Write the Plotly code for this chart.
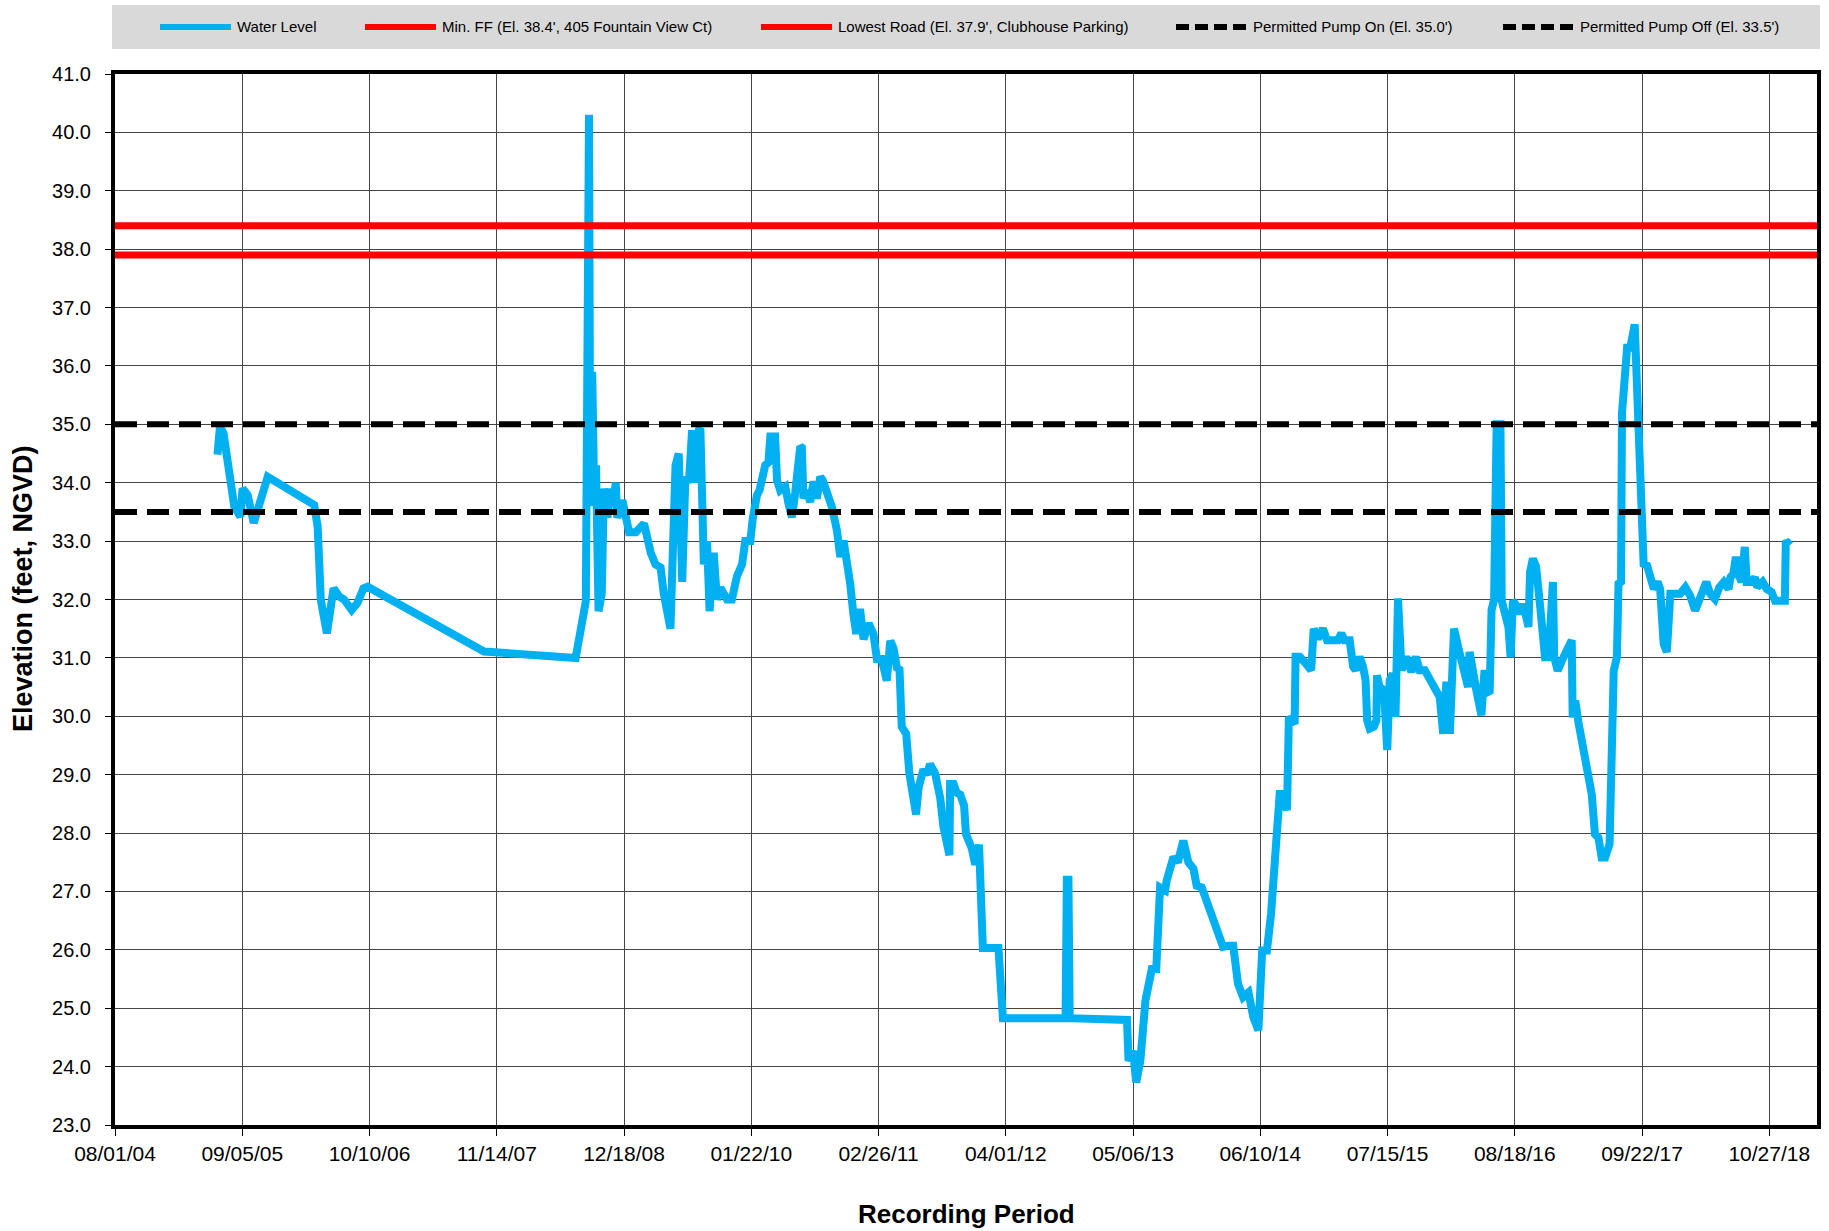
import pandas as pd
import plotly.graph_objects as go

# ---------------- data ----------------
START_DATE = "2004-08-01"
AXIS_END = "2019-03-26"

# days after START_DATE for each water level reading
level_days = [
    322, 330, 341, 375, 394, 401, 417, 436, 480, 626, 637, 647, 666, 687, 705, 720, 744, 762, 781, 794,
    1160, 1448, 1480, 1490, 1494, 1500, 1506, 1512, 1520, 1530, 1537, 1548, 1556, 1565, 1574, 1579,
    1595, 1605, 1616, 1637, 1648, 1663, 1684, 1699, 1715, 1725, 1746, 1757, 1762, 1772, 1783, 1793,
    1804, 1814, 1825, 1835, 1840, 1851, 1861, 1869, 1882, 1892, 1903, 1924, 1939, 1955, 1971, 1981,
    1997, 2005, 2007, 2018, 2026, 2044, 2054, 2060, 2075, 2081, 2091, 2107, 2117, 2128, 2138, 2154,
    2159, 2164, 2175, 2185, 2196, 2206, 2217, 2225, 2238, 2253, 2269, 2280, 2290, 2301, 2311, 2321,
    2330, 2342, 2353, 2369, 2384, 2395, 2410, 2426, 2437, 2447, 2458, 2466, 2473, 2487, 2497, 2518,
    2526, 2541, 2552, 2562, 2578, 2594, 2604, 2623, 2625, 2636, 2646, 2657, 2669, 2675, 2693, 2704,
    2716, 2728, 2777, 2791, 2988, 2992, 2997, 3001, 3181, 3186, 3200, 3210, 3223, 3239, 3249, 3259,
    3273, 3285, 3301, 3306, 3327, 3341, 3358, 3374, 3390, 3400, 3416, 3483, 3499, 3515, 3530, 3546,
    3563, 3578, 3594, 3606, 3621, 3634, 3652, 3661, 3671, 3684, 3690, 3708, 3711, 3724, 3739, 3760,
    3768, 3781, 3797, 3810, 3844, 3855, 3865, 3881, 3892, 3900, 3912, 3923, 3931, 3936, 3944, 3957,
    3965, 3967, 3975, 3989, 3999, 4007, 4017, 4025, 4033, 4044, 4059, 4075, 4089, 4101, 4117, 4148,
    4164, 4175, 4185, 4196, 4209, 4222, 4237, 4253, 4258, 4271, 4279, 4295, 4305, 4313, 4321, 4327,
    4335, 4343, 4355, 4359, 4370, 4380, 4387, 4394, 4401, 4412, 4419, 4429, 4443, 4448, 4457, 4467,
    4480, 4495, 4506, 4511, 4520, 4524, 4535, 4553, 4579, 4582, 4590, 4600, 4621, 4642, 4652, 4663,
    4673, 4684, 4698, 4705, 4711, 4721, 4726, 4734, 4737, 4753, 4763, 4777, 4782, 4793, 4805, 4816,
    4826, 4837, 4849, 4857, 4868, 4878, 4889, 4904, 4920, 4936, 4951, 4967, 4983, 5002, 5014, 5029,
    5043, 5057, 5072, 5078, 5087, 5095, 5102, 5113, 5123, 5129, 5145, 5155, 5162, 5179, 5192, 5207,
    5218, 5233, 5249, 5252, 5265,
]

water_level = [
    34.48, 34.96, 34.85, 33.59, 33.42, 33.90, 33.79, 33.31, 34.10, 33.62, 33.25, 31.99, 31.42, 32.19, 32.05, 32.00, 31.82, 31.94, 32.19, 32.22,
    31.11, 31.00, 31.97, 40.30, 33.60, 35.90, 33.90, 34.30, 31.80, 32.10, 33.90, 33.40, 33.90, 33.60, 34.00, 33.40,
    33.70, 33.35, 33.15, 33.15, 33.20, 33.30, 32.80, 32.60, 32.55, 32.10, 31.50, 34.30, 34.30, 34.50, 32.30, 34.10,
    34.00, 34.90, 34.00, 34.90, 34.93, 32.60, 33.00, 31.80, 32.80, 32.00, 32.20, 32.00, 32.00, 32.40, 32.60, 33.00,
    33.00, 33.40, 33.47, 33.79, 33.87, 34.30, 34.35, 34.79, 34.79, 34.04, 33.87, 33.93, 33.64, 33.41, 33.82, 34.62,
    34.60, 33.73, 33.87, 33.67, 34.02, 33.73, 34.10, 34.04, 33.87, 33.59, 33.19, 32.73, 33.01, 32.67, 32.27, 31.75,
    31.41, 31.84, 31.32, 31.59, 31.41, 30.98, 30.98, 30.61, 31.29, 31.17, 30.83, 30.80, 29.82, 29.70, 29.02, 28.32,
    28.78, 29.09, 29.00, 29.18, 29.02, 28.60, 28.11, 27.62, 28.84, 28.84, 28.69, 28.66, 28.47, 27.98, 27.74, 27.46,
    27.80, 26.03, 26.03, 24.83, 24.83, 27.20, 27.20, 24.83, 24.80, 24.10, 24.27, 23.73, 24.10, 25.13, 25.36, 25.67,
    25.67, 27.07, 27.02, 27.19, 27.59, 27.50, 27.87, 27.50, 27.39, 27.10, 27.07, 26.05, 26.07, 26.07, 25.42, 25.19,
    25.27, 24.85, 24.62, 25.99, 25.99, 26.62, 27.99, 28.67, 28.67, 28.39, 29.99, 29.87, 31.02, 31.02, 30.93, 30.79,
    31.50, 31.33, 31.50, 31.30, 31.30, 31.42, 31.30, 31.30, 30.85, 30.79, 31.02, 30.85, 30.62, 29.93, 29.79, 29.82,
    29.93, 30.70, 30.50, 30.45, 29.42, 30.62, 30.73, 29.99, 32.02, 30.79, 31.02, 30.76, 31.02, 30.79, 30.79, 30.50,
    30.33, 29.70, 30.59, 29.70, 31.50, 31.19, 30.85, 30.50, 31.10, 30.79, 30.45, 30.02, 30.79, 30.42, 30.39, 31.82,
    32.00, 35.00, 35.00, 31.98, 31.75, 31.53, 31.01, 31.98, 31.93, 31.75, 31.87, 31.87, 31.53, 32.47, 32.70, 32.56,
    31.87, 31.01, 31.01, 31.53, 32.30, 31.01, 30.78, 31.01, 31.30, 29.98, 30.27, 29.90, 29.18, 28.66, 27.98, 27.92,
    27.58, 27.58, 27.81, 29.46, 30.78, 31.01, 32.27, 32.30, 35.19, 36.31, 36.31, 36.71, 35.99, 35.02, 32.61, 32.58,
    32.33, 32.18, 32.30, 32.18, 31.24, 31.10, 32.10, 32.10, 32.10, 32.21, 32.07, 31.81, 32.07, 32.30, 32.10, 32.01,
    32.21, 32.30, 32.18, 32.38, 32.44, 32.73, 32.44, 32.30, 32.90, 32.30, 32.30, 32.38, 32.21, 32.30, 32.18, 32.13,
    31.98, 31.98, 31.98, 33.01, 32.93,
]

reference_names = [
    "Min. FF (El. 38.4', 405 Fountain View Ct)",
    "Lowest Road (El. 37.9', Clubhouse Parking)",
    "Permitted Pump On (El. 35.0')",
    "Permitted Pump Off (El. 33.5')",
]
reference_levels = [38.4, 37.9, 35.0, 33.5]

y_min, y_max, y_step = 23.0, 41.0, 1.0
tick_step_days = 400

# ---------------- figure ----------------
W, H = 1829, 1231
ML, MR, MT, MB = 115, 12, 74, 106
PW, PH = W - ML - MR, H - MT - MB

BLUE = "#00B0F0"
RED = "#FF0000"
BLACK = "#000000"
FONT = "Liberation Sans, Arial, sans-serif"

start = pd.Timestamp(START_DATE)
end = pd.Timestamp(AXIS_END)
dates = start + pd.to_timedelta(level_days, unit="D")

ref_styles = [
    dict(color=RED, width=7),
    dict(color=RED, width=7),
    dict(color=BLACK, width=6, dash="22px,10px"),
    dict(color=BLACK, width=6, dash="22px,10px"),
]

fig = go.Figure()
fig.add_trace(go.Scatter(x=dates, y=water_level, mode="lines", name="Water Level",
                         line=dict(color=BLUE, width=8), showlegend=False))
for nm, lv, st in zip(reference_names, reference_levels, ref_styles):
    fig.add_trace(go.Scatter(x=[start, end], y=[lv, lv], mode="lines", name=nm,
                             line=st, showlegend=False))


def px_x(p):
    return (p - ML) / PW


def px_y(p):
    return (MT + PH - p) / PH


shapes = []
annotations = []
# legend background
shapes.append(dict(type="rect", xref="paper", yref="paper", x0=px_x(112), x1=px_x(1820),
                   y0=px_y(49), y1=px_y(5), fillcolor="#D9D9D9", line=dict(width=0), layer="below"))
legend_names = ["Water Level"] + reference_names
legend_styles = [dict(color=BLUE, width=6)] + [
    dict(color=RED, width=6), dict(color=RED, width=6),
    dict(color=BLACK, width=6, dash="13px,6px"), dict(color=BLACK, width=6, dash="13px,6px")]
legend_sym_x = [160, 365, 761, 1176, 1503]
ly = px_y(27)
for nm, st, sx in zip(legend_names, legend_styles, legend_sym_x):
    shapes.append(dict(type="line", xref="paper", yref="paper", x0=px_x(sx), x1=px_x(sx + 71),
                       y0=ly, y1=ly, line=st))
    annotations.append(dict(text=nm, xref="paper", yref="paper", x=px_x(sx + 75), y=ly,
                            xanchor="left", yanchor="middle", showarrow=False,
                            font=dict(family=FONT, size=15, color=BLACK)))

# axis titles
annotations.append(dict(text="<b>Recording Period</b>", xref="paper", yref="paper",
                        x=0.5, y=px_y(1214), xanchor="center", yanchor="middle", showarrow=False,
                        font=dict(family=FONT, size=26, color=BLACK)))
annotations.append(dict(text="<b>Elevation (feet, NGVD)</b>", xref="paper", yref="paper",
                        x=px_x(23), y=px_y(589), xanchor="center", yanchor="middle", showarrow=False,
                        textangle=-90, font=dict(family=FONT, size=27, color=BLACK)))

fig.update_layout(
    width=W, height=H,
    margin=dict(l=ML, r=MR, t=MT, b=MB, autoexpand=False),
    paper_bgcolor="white", plot_bgcolor="white",
    showlegend=False,
    shapes=shapes, annotations=annotations,
    xaxis=dict(
        type="date", range=[start, end],
        tick0=start, dtick=tick_step_days * 86400000, tickformat="%m/%d/%y",
        showgrid=True, gridcolor="#454545", gridwidth=1,
        showline=True, linecolor=BLACK, linewidth=4, mirror=True,
        ticks="outside", ticklen=7, tickcolor=BLACK, tickwidth=1,
        tickfont=dict(family=FONT, size=21, color=BLACK),
        zeroline=False,
    ),
    yaxis=dict(
        range=[y_min, y_max], tick0=y_min, dtick=y_step, tickformat=".1f",
        showgrid=True, gridcolor="#454545", gridwidth=1,
        showline=True, linecolor=BLACK, linewidth=4, mirror=True,
        ticks="outside", ticklen=6, tickcolor=BLACK, tickwidth=1,
        ticklabelstandoff=10,
        tickfont=dict(family=FONT, size=20, color=BLACK),
        zeroline=False,
    ),
)

fig.write_html("out.html", config={"displayModeBar": False},
               post_script="document.body.style.margin='0px';document.body.style.overflow='hidden';")
